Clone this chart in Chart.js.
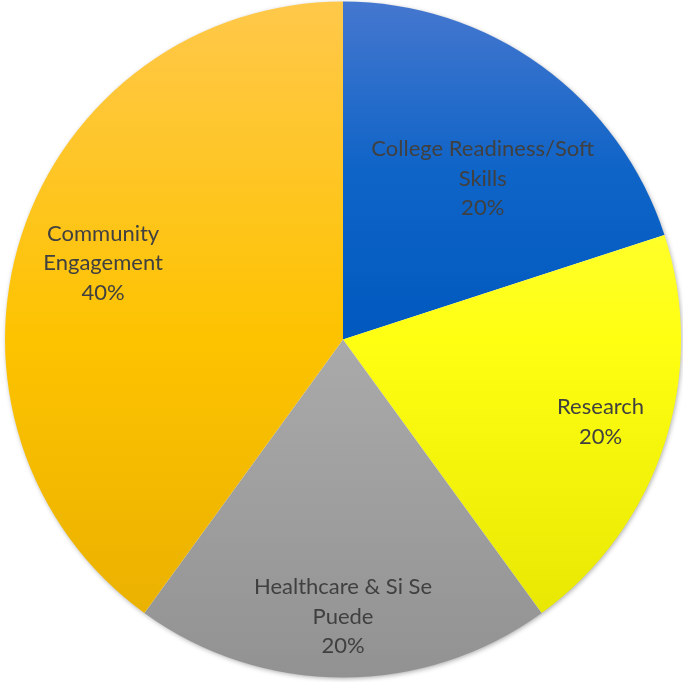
<!DOCTYPE html>
<html>
<head>
<meta charset="utf-8">
<script src="https://cdn.jsdelivr.net/npm/chart.js@4.4.1/dist/chart.umd.min.js"></script>
<style>
  html, body { margin: 0; padding: 0; background: #ffffff; }
  #wrap { width: 683px; height: 682px; }
</style>
</head>
<body>
<div id="wrap"><canvas id="pie" width="683" height="682"></canvas></div>
<script>
// Program focus areas and their shares (percent)
const categories = ["College Readiness/Soft Skills", "Research", "Healthcare & Si Se Puede", "Community Engagement"];
const labelLines = [["College Readiness/Soft", "Skills"], ["Research"], ["Healthcare & Si Se", "Puede"], ["Community", "Engagement"]];
const shares = [20, 20, 20, 40];

// Vertical gradient stops for each slice: [offset, colour] running top to bottom of the pie
const sliceStops = [
  [[0, "#4577cf"], [0.25, "#0f64c7"], [0.5, "#0059bf"], [1, "#004aa0"]],
  [[0, "#ffff60"], [0.5, "#ffff12"], [1, "#e2e200"]],
  [[0, "#c0c0c0"], [0.5, "#aaaaaa"], [1, "#929292"]],
  [[0, "#ffc84a"], [0.5, "#fdc300"], [1, "#e6ad00"]]
];

// Label placement: distance from centre (fraction of radius) and angle nudge (degrees)
const labelRadius = [0.63, 0.80, 0.82, 0.745];
const labelNudge = [5, -0.3, 0, -0.3];

function sliceGradient(ctx) {
  const chart = ctx.chart;
  const area = chart.chartArea;
  const stops = sliceStops[ctx.dataIndex];
  if (!area || !isFinite(area.top) || !isFinite(area.bottom)) return stops[1][1];
  const cy = (area.top + area.bottom) / 2;
  const r = Math.min(area.right - area.left, area.bottom - area.top) / 2;
  const g = chart.ctx.createLinearGradient(0, cy - r, 0, cy + r);
  stops.forEach(([o, col]) => g.addColorStop(o, col));
  return g;
}

// Soft drop shadow under the whole pie
const pieShadow = {
  id: 'pieShadow',
  beforeDatasetsDraw(chart) {
    const arc = chart.getDatasetMeta(0).data[0];
    if (!arc) return;
    const c = chart.ctx;
    c.save();
    c.shadowColor = 'rgba(0,0,0,0.35)';
    c.shadowBlur = 5;
    c.shadowOffsetX = 1;
    c.shadowOffsetY = 1.5;
    c.fillStyle = '#ffffff';
    c.beginPath();
    c.arc(arc.x, arc.y, arc.outerRadius - 0.5, 0, Math.PI * 2);
    c.fill();
    c.restore();
  }
};

// Category name and percentage drawn inside each slice
const sliceLabels = {
  id: 'sliceLabels',
  afterDatasetsDraw(chart) {
    const c = chart.ctx;
    const meta = chart.getDatasetMeta(0);
    const total = shares.reduce((a, b) => a + b, 0);
    c.save();
    c.font = '22px Lato, "Open Sans", sans-serif';
    c.fillStyle = '#404040';
    c.textAlign = 'center';
    c.textBaseline = 'middle';
    const lh = 29.5;
    meta.data.forEach((arc, i) => {
      const mid = (arc.startAngle + arc.endAngle) / 2 + labelNudge[i] * Math.PI / 180;
      const d = arc.outerRadius * labelRadius[i];
      const x = arc.x + Math.cos(mid) * d;
      const y = arc.y + Math.sin(mid) * d;
      const lines = labelLines[i].concat([Math.round(shares[i] / total * 100) + '%']);
      const y0 = y - (lines.length - 1) * lh / 2;
      lines.forEach((t, k) => c.fillText(t, x, y0 + k * lh));
    });
    c.restore();
  }
};

new Chart(document.getElementById('pie'), {
  type: 'pie',
  data: {
    labels: categories,
    datasets: [{
      data: shares,
      backgroundColor: sliceGradient,
      borderWidth: 0,
      hoverOffset: 0
    }]
  },
  options: {
    responsive: false,
    animation: false,
    layout: { padding: { left: 3, right: 0, top: 1.5, bottom: 4.5 } },
    plugins: {
      legend: { display: false },
      tooltip: { enabled: false }
    }
  },
  plugins: [pieShadow, sliceLabels]
});
</script>
</body>
</html>
